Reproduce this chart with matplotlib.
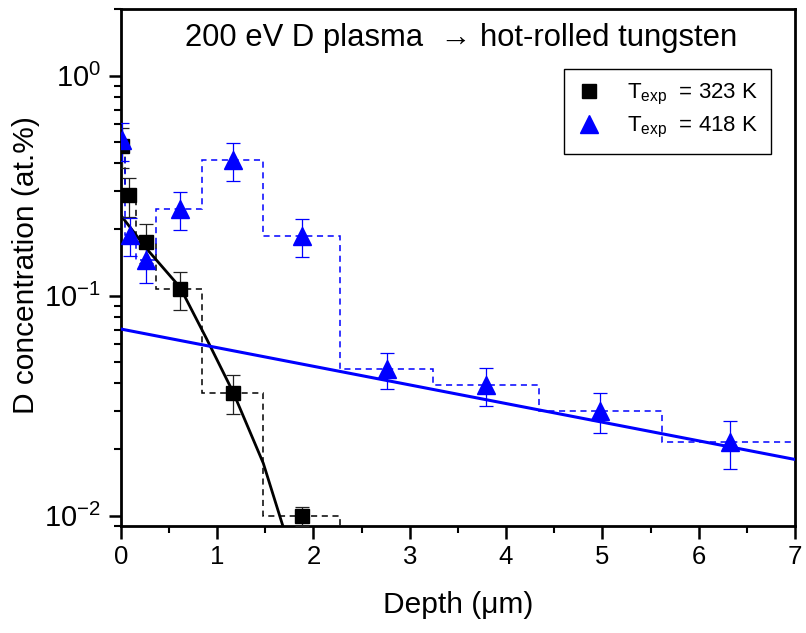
import matplotlib.pyplot as plt
from matplotlib.ticker import MultipleLocator

plt.rcParams["font.family"] = ["Liberation Sans", "DejaVu Sans"]
plt.rcParams["mathtext.fontset"] = "custom"
plt.rcParams["mathtext.rm"] = "Liberation Sans"
plt.rcParams["mathtext.it"] = "Liberation Sans:italic"

# depth bins of the profile (um)
bin_edges = [0.0, 0.04, 0.155, 0.37, 0.84, 1.48, 2.28, 3.24, 4.34, 5.62, 7.0]

# T_exp = 323 K
depth_323 = [0.015, 0.09, 0.26, 0.615, 1.17, 1.88]
conc_323 = [0.48, 0.286, 0.176, 0.107, 0.0362, 0.0100]
err_323 = [0.10, 0.058, 0.035, 0.021, 0.0073, 0.001]

# T_exp = 418 K
depth_418 = [0.01, 0.097, 0.26, 0.615, 1.17, 1.88, 2.76, 3.79, 4.98, 6.33]
conc_418 = [0.51, 0.188, 0.145, 0.247, 0.413, 0.187, 0.0463, 0.0391, 0.0299, 0.0216]
err_418 = [0.10, 0.037, 0.031, 0.049, 0.08, 0.037, 0.0087, 0.0077, 0.0062, 0.0053]

# fitted profiles
fit_323_depth = [0.0, 0.27, 0.616, 0.893, 1.169, 1.48, 1.70]
fit_323_conc = [0.232, 0.163, 0.109, 0.0634, 0.0362, 0.0173, 0.0085]
fit_418_depth = [0.0, 7.0]
fit_418_conc = [0.0705, 0.018]

labels = [r"T$_{\mathregular{exp}}$  = 323 K", r"T$_{\mathregular{exp}}$  = 418 K"]

BLUE = "#0000ff"

fig = plt.figure(figsize=(8.06, 6.33), dpi=100)
ax = fig.add_axes([0.1498, 0.1695, 0.8366, 0.8158])
ax.set_yscale("log")

# dashed histograms
ax.stairs(conc_323, bin_edges[:len(conc_323) + 1], baseline=1e-4,
          color="k", ls=(0, (4, 3)), lw=1.1, zorder=2)
ax.stairs(conc_418, bin_edges[:len(conc_418) + 1], baseline=None,
          color=BLUE, ls=(0, (4, 3)), lw=1.1, zorder=2)

# fit lines
ax.plot(fit_323_depth, fit_323_conc, color="k", lw=2.0, zorder=3)
ax.plot(fit_418_depth, fit_418_conc, color=BLUE, lw=2.2, zorder=3)

# data with error bars
ax.errorbar(depth_323, conc_323, yerr=err_323, fmt="none", ecolor="#222222",
            elinewidth=0.9, capsize=5, capthick=0.9, zorder=4)
ax.errorbar(depth_418, conc_418, yerr=err_418, fmt="none", ecolor=BLUE,
            elinewidth=0.9, capsize=5, capthick=0.9, zorder=4)
ax.plot(depth_323, conc_323, "s", color="k", ms=9.5, ls="none", zorder=5,
        label=labels[0])
ax.plot(depth_418, conc_418, "^", color=BLUE, ms=12.5, ls="none", zorder=5,
        label=labels[1])

ax.set_xlim(0, 7)
ax.set_ylim(0.009, 2.0)
ax.xaxis.set_major_locator(MultipleLocator(1))
ax.xaxis.set_minor_locator(MultipleLocator(0.5))
ax.tick_params(which="major", direction="out", length=9, width=1.8,
               top=False, right=False, pad=5)
ax.tick_params(which="minor", direction="out", length=5, width=1.5,
               top=False, right=False)
ax.tick_params(axis="x", labelsize=18.5)
ax.tick_params(axis="y", labelsize=21)
for s in ax.spines.values():
    s.set_linewidth(2.0)

ax.set_xlabel("Depth (μm)", fontsize=21.5, labelpad=16)
ax.set_ylabel("D concentration (at.%)", fontsize=21.5)
ax.yaxis.set_label_coords(-0.12, 0.505)

ax.text(0.505, 0.944, "200 eV D plasma  → hot-rolled tungsten",
        transform=ax.transAxes, ha="center", va="center", fontsize=22.3)

leg = ax.legend(loc="upper right", bbox_to_anchor=(0.9644, 0.8844),
                fontsize=16, frameon=True, fancybox=False, framealpha=1,
                edgecolor="k", handlelength=1.0, handletextpad=1.2,
                borderpad=0.6, labelspacing=0.35, borderaxespad=0)
leg.get_frame().set_linewidth(1.0)

fig.savefig("out.png", dpi=100)
